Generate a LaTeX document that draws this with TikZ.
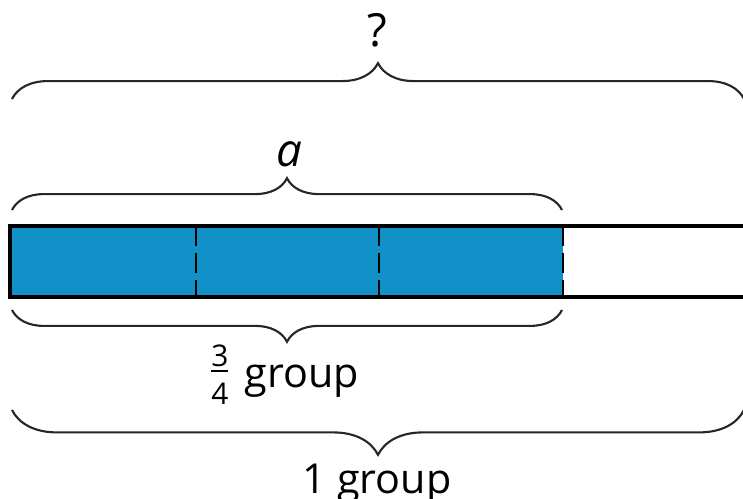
\documentclass[tikz,border=0pt]{standalone}
\usepackage{fontspec}
\setmainfont{Open Sans}
\usetikzlibrary{decorations.pathreplacing,positioning}

\definecolor{barblue}{RGB}{17,145,199}

% small stacked fraction, 3 over 4
\newcommand{\partfrac}[2]{\raisebox{-9.5pt}{\fontsize{17}{17}\selectfont
  \vbox{\halign{\hfil##\hfil\cr #1\cr\noalign{\kern1.5pt\hrule height 1.1pt\kern 6.5pt}#2\cr}}}}

\begin{document}
\begin{tikzpicture}[x=0.02cm,y=-0.02cm,
    curly/.style={decorate,decoration={brace,amplitude=#1},line width=1.2pt,draw=black!85},
    cut/.style={line width=1.2pt,dash pattern=on 11.3pt off 4pt},
    txt/.style={font=\fontsize{23.5}{28}\selectfont,inner sep=0pt,anchor=base}]

\useasboundingbox (0,0) rectangle (743,499);

% the bar
\coordinate (tl) at (10,226);
\coordinate (bl) at (10,297);
\coordinate (tr) at (760,226);
\coordinate (br) at (760,297);

\fill[barblue] (tl) rectangle (563,297);
\draw[line width=2.2pt] (tr) -- (tl) -- (bl) -- (br);

\foreach \x/\n in {196/1,379/2,563/3} {
    \coordinate (t\n) at (\x,226);
    \coordinate (b\n) at (\x,297);
    \draw[cut] (t\n) -- (b\n);
}

% braces above
\coordinate (wl) at (12,99);
\coordinate (wr) at (744,99);
\draw[curly=20.4pt] (wl) -- (wr);

\coordinate (al) at (12,210);
\coordinate (ar) at (562,210);
\draw[curly=18.1pt] (al) -- (ar);

% braces below
\coordinate (pl) at (12,310);
\coordinate (pr) at (562,310);
\draw[curly=18.1pt] (pr) -- (pl);

\coordinate (gl) at (12,410);
\coordinate (gr) at (744,410);
\draw[curly=25.5pt] (gr) -- (gl);

% labels
\node[txt,font=\fontsize{26}{30}\selectfont] (qmark) at (377,47) {?};
\node[txt,font=\fontsize{26}{30}\selectfont] (alen) at (289,167) {\textit{a}};
\node[txt] (part) at (285,388) {\partfrac{3}{4}\hspace{3pt} group};
\node[txt] (whole) at (377,493) {1 group};

\end{tikzpicture}
\end{document}
